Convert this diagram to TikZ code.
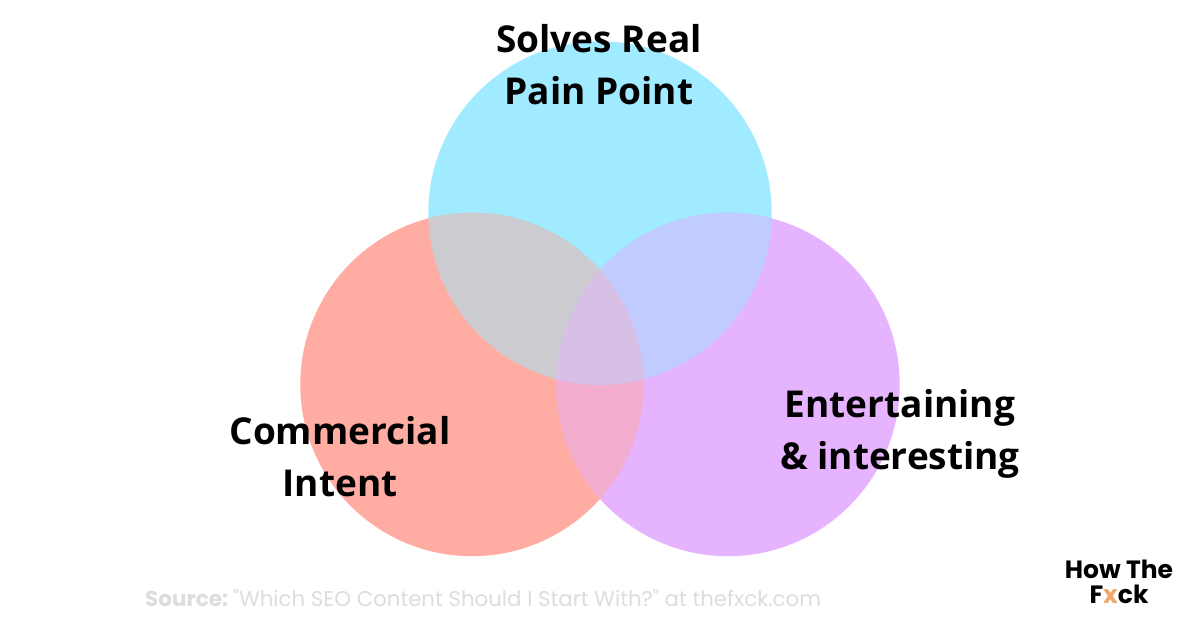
\documentclass[tikz,border=0pt]{standalone}
\usepackage{fontspec}
\setmainfont{Open Sans}
\newfontfamily\pop{Poppins}
\definecolor{vennB}{HTML}{A0EBFF}
\definecolor{vennR}{HTML}{FFADA2}
\definecolor{vennP}{HTML}{E6B3FF}
\definecolor{vennRB}{HTML}{CBCBD0}
\definecolor{vennBP}{HTML}{C0CBFF}
\definecolor{vennRP}{HTML}{F3ADCF}
\definecolor{vennMid}{HTML}{D8BFE6}
\definecolor{srcgray}{HTML}{DDDDDD}
\definecolor{xorange}{HTML}{F4A868}
\tikzset{
  lab/.style={align=center,font=\fontsize{37}{52}\selectfont\bfseries,text=black,inner sep=0pt},
  logo/.style={align=center,font=\pop\fontsize{25}{25}\selectfont\bfseries,text=black,inner sep=0pt},
  srctxt/.style={anchor=west,font=\pop\fontsize{21.5}{24}\selectfont,text=srcgray,inner sep=0pt}
}
\newcommand{\cB}{(600,213) circle (171.7pt)}
\newcommand{\cR}{(472,384.5) circle (171.7pt)}
\newcommand{\cP}{(728,384.5) circle (171.7pt)}
\begin{document}
\begin{tikzpicture}[x=1pt,y=-1pt]
\useasboundingbox (0,0) rectangle (1200,628);
\fill[white] (0,0) rectangle (1200,628);
\fill[vennB] \cB;
\fill[vennR] \cR;
\fill[vennP] \cP;
\begin{scope}\clip \cR; \fill[vennRP] \cP; \end{scope}
\begin{scope}\clip \cB; \fill[vennRB] \cR; \fill[vennBP] \cP; \end{scope}
\begin{scope}\clip \cB; \clip \cR; \fill[vennMid] \cP; \end{scope}
\node[lab] (pain) at (599,64.5) {Solves Real\\Pain Point};
\node[lab] (comm) at (340,457) {Commercial\\Intent};
\node[lab] (ent) at (900,434) {Entertaining\\\& interesting};
\node[logo] (brand) at (1119,582) {How The\\F{\color{xorange}x}ck};
\node[srctxt] (source) at (145,598) {\textbf{Source:}\hspace{-3pt} {\fontsize{21.3}{24}\selectfont"Which SEO Content Should I Start With?" at thefxck.com}};
\end{tikzpicture}
\end{document}
